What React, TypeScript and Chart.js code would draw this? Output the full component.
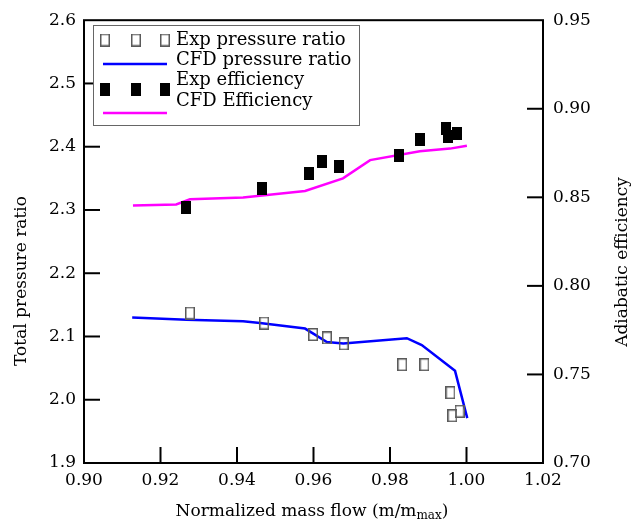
import React, { useEffect, useRef } from "react";
import { Chart, registerables } from "chart.js";

Chart.register(...registerables);

// ---- data ----
const expPrX = [0.9277, 0.9471, 0.9599, 0.9635, 0.9679, 0.9832, 0.989, 0.9958, 0.9982, 0.9963];
const expPrY = [2.137, 2.1213, 2.1031, 2.0978, 2.0884, 2.0555, 2.0555, 2.0112, 1.9819, 1.9747];

const cfdPrX = [0.9126, 0.9268, 0.9416, 0.946, 0.9578, 0.9635, 0.9678, 0.9844, 0.9883, 0.997, 1.0002];
const cfdPrY = [2.1302, 2.1266, 2.124, 2.1213, 2.1125, 2.0911, 2.0891, 2.0973, 2.0864, 2.0457, 1.971];

const expEffX = [0.9267, 0.9465, 0.9588, 0.9622, 0.9667, 0.9824, 0.9878, 0.9946, 0.9952, 0.9975];
const expEffY = [0.8443, 0.8549, 0.8635, 0.87, 0.8672, 0.8738, 0.8829, 0.8887, 0.8844, 0.8859];

const cfdEffX = [0.9128, 0.9241, 0.9277, 0.9416, 0.9578, 0.9677, 0.9748, 0.9878, 0.9957, 1.0001];
const cfdEffY = [0.8454, 0.846, 0.8489, 0.8499, 0.8536, 0.8607, 0.871, 0.876, 0.8775, 0.8791];

const legendLabels = ["Exp pressure ratio", "CFD pressure ratio", "Exp efficiency", "CFD Efficiency"];
const xTitle = "Normalized mass flow (m/m";
const xTitleSub = "max";
const yTitle = "Total pressure ratio";
const y1Title = "Adiabatic efficiency";

const FONT = "'DejaVu Serif', serif";
const TICK = 16;

function makeRect(w: number, h: number, fill: string | null, stroke: string | null, lw: number) {
  const c = document.createElement("canvas");
  c.width = w;
  c.height = h;
  const ctx = c.getContext("2d")!;
  if (fill) {
    ctx.fillStyle = fill;
    ctx.fillRect(0, 0, w, h);
  }
  if (stroke) {
    ctx.strokeStyle = stroke;
    ctx.lineWidth = lw;
    ctx.strokeRect(lw / 2, lw / 2, w - lw, h - lw);
  }
  return c;
}

const zip = (xs: number[], ys: number[]) => xs.map((x, i) => ({ x, y: ys[i] }));

export default function App() {
  const ref = useRef<HTMLCanvasElement>(null);
  useEffect(() => {
    const hollow = makeRect(10, 13, null, "#5a5a5a", 1.5);
    const filled = makeRect(10, 13, "#000000", null, 0);

    const decor = {
      id: "decor",
      afterDraw(chart: any) {
        const { ctx, chartArea, scales } = chart;
        const { left, right, top, bottom } = chartArea;
        ctx.save();
        ctx.strokeStyle = "#000";
        ctx.lineWidth = 2;
        const line = (a: number, b: number, c: number, d: number) => {
          ctx.beginPath();
          ctx.moveTo(a, b);
          ctx.lineTo(c, d);
          ctx.stroke();
        };
        const inner = (s: any) =>
          s.ticks.filter((t: any) => t.value > s.min + 1e-9 && t.value < s.max - 1e-9);
        inner(scales.x).forEach((t: any) => {
          const p = scales.x.getPixelForValue(t.value);
          line(p, bottom, p, bottom - TICK);
        });
        inner(scales.y).forEach((t: any) => {
          const p = scales.y.getPixelForValue(t.value);
          line(left, p, left + TICK, p);
        });
        inner(scales.y1).forEach((t: any) => {
          const p = scales.y1.getPixelForValue(t.value);
          line(right, p, right - TICK, p);
        });
        ctx.strokeRect(left, top, right - left, bottom - top);

        // titles
        ctx.fillStyle = "#000";
        ctx.font = `17px ${FONT}`;
        ctx.textBaseline = "middle";
        ctx.textAlign = "center";
        ctx.save();
        ctx.translate(22, 281);
        ctx.rotate(-Math.PI / 2);
        ctx.fillText(yTitle, 0, 0);
        ctx.restore();
        ctx.save();
        ctx.translate(623, 262);
        ctx.rotate(-Math.PI / 2);
        ctx.fillText(y1Title, 0, 0);
        ctx.restore();

        // x title with subscript
        ctx.textAlign = "left";
        ctx.textBaseline = "alphabetic";
        ctx.font = `17px ${FONT}`;
        const w1 = ctx.measureText(xTitle).width;
        ctx.font = `12px ${FONT}`;
        const w2 = ctx.measureText(xTitleSub).width;
        ctx.font = `17px ${FONT}`;
        const w3 = ctx.measureText(")").width;
        const total = w1 + w2 + w3;
        const x0 = 312 - total / 2;
        const base = 516;
        ctx.fillText(xTitle, x0, base);
        ctx.font = `12px ${FONT}`;
        ctx.fillText(xTitleSub, x0 + w1, base + 3);
        ctx.font = `17px ${FONT}`;
        ctx.fillText(")", x0 + w1 + w2, base);

        // legend
        ctx.fillStyle = "#fff";
        ctx.fillRect(93, 25, 266, 100);
        ctx.strokeStyle = "#666";
        ctx.lineWidth = 1;
        ctx.strokeRect(93.5, 25.5, 266, 100);
        const mx = [105, 136, 165];
        mx.forEach((m) => ctx.drawImage(hollow, m - 5, 40 - 6.5));
        ctx.strokeStyle = "#0000ff";
        ctx.lineWidth = 2.5;
        line(103, 64, 167, 64);
        mx.forEach((m) => ctx.drawImage(filled, m - 5, 89 - 6.5));
        ctx.strokeStyle = "#ff00ff";
        line(103, 113, 167, 113);
        ctx.fillStyle = "#000";
        ctx.font = `18px ${FONT}`;
        ctx.textAlign = "left";
        ctx.textBaseline = "middle";
        const ys = [40, 60, 80, 101];
        legendLabels.forEach((l, i) => ctx.fillText(l, 176, ys[i]));
        ctx.restore();
      },
    };

    const chart = new Chart(ref.current!, {
      type: "line",
      data: {
        datasets: [
          {
            label: legendLabels[1],
            data: zip(cfdPrX, cfdPrY),
            borderColor: "#0000ff",
            borderWidth: 2.5,
            pointRadius: 0,
            yAxisID: "y",
            order: 3,
          },
          {
            label: legendLabels[3],
            data: zip(cfdEffX, cfdEffY),
            borderColor: "#ff00ff",
            borderWidth: 2.5,
            pointRadius: 0,
            yAxisID: "y1",
            order: 3,
          },
          {
            label: legendLabels[0],
            data: zip(expPrX, expPrY),
            showLine: false,
            pointStyle: hollow as any,
            pointRadius: 6,
            yAxisID: "y",
            order: 1,
          },
          {
            label: legendLabels[2],
            data: zip(expEffX, expEffY),
            showLine: false,
            pointStyle: filled as any,
            pointRadius: 6,
            yAxisID: "y1",
            order: 1,
          },
        ],
      },
      options: {
        responsive: false,
        animation: false,
        layout: { padding: { top: 16, left: 0, right: 0, bottom: 0 } },
        plugins: { legend: { display: false }, tooltip: { enabled: false } },
        scales: {
          x: {
            type: "linear",
            position: "bottom",
            min: 0.9,
            max: 1.02,
            grid: { display: false, drawTicks: false },
            border: { display: false },
            ticks: {
              stepSize: 0.02,
              padding: 7,
              color: "#000",
              maxRotation: 0,
              font: { family: FONT, size: 17 },
              callback: (v: any) => Number(v).toFixed(2),
            },
            afterFit: (s: any) => {
              s.height = 57;
            },
          },
          y: {
            type: "linear",
            position: "left",
            min: 1.9,
            max: 2.6,
            grid: { display: false, drawTicks: false },
            border: { display: false },
            ticks: {
              stepSize: 0.1,
              padding: 8,
              color: "#000",
              font: { family: FONT, size: 17 },
              callback: (v: any) => Number(v).toFixed(1),
            },
            afterFit: (s: any) => {
              s.width = 84;
            },
          },
          y1: {
            type: "linear",
            position: "right",
            min: 0.7,
            max: 0.95,
            grid: { display: false, drawTicks: false },
            border: { display: false },
            ticks: {
              stepSize: 0.05,
              padding: 10,
              color: "#000",
              font: { family: FONT, size: 17 },
              callback: (v: any) => Number(v).toFixed(2),
            },
            afterFit: (s: any) => {
              s.width = 96;
            },
          },
        },
      },
      plugins: [decor],
    });
    return () => chart.destroy();
  }, []);

  return (
    <div style={{ position: "fixed", left: 0, top: 0, width: 639, height: 520, background: "#fff" }}>
      <canvas ref={ref} width={639} height={520} style={{ display: "block" }} />
    </div>
  );
}
